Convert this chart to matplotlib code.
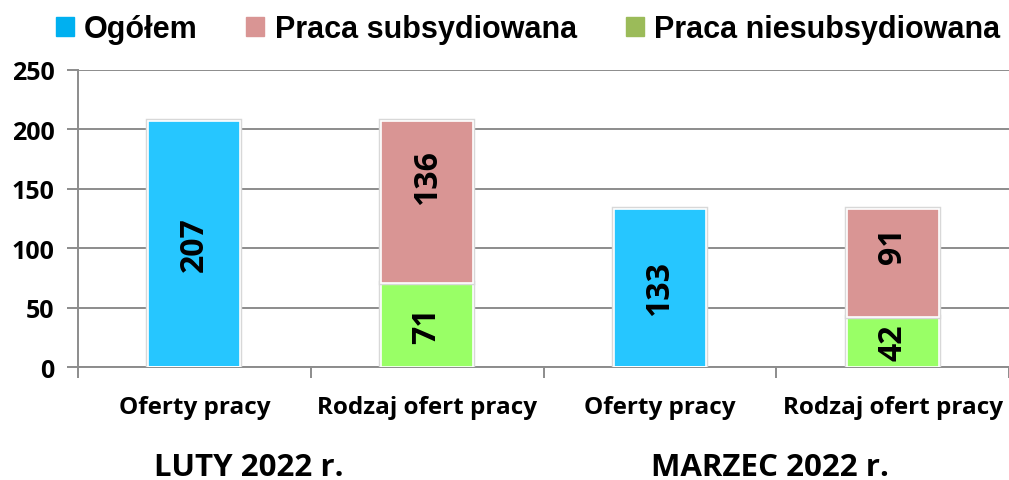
import matplotlib
matplotlib.use('Agg')
import matplotlib.pyplot as plt
import matplotlib.patheffects as pe
import numpy as np

# data
categories = ["Oferty pracy", "Rodzaj ofert pracy", "Oferty pracy", "Rodzaj ofert pracy"]
groups = ["LUTY 2022 r.", "MARZEC 2022 r."]
series_names = ["Ogółem", "Praca subsydiowana", "Praca niesubsydiowana"]
ogolem = [207, 0, 133, 0]
subsydiowana = [0, 136, 0, 91]
niesubsydiowana = [0, 71, 0, 42]
yticks = [0, 50, 100, 150, 200, 250]

# where the labels of the upper (pink) segments sit in the original
sub_label_y = [0, 160, 0, 103]

bar_colors = ["#26C6FF", "#D99594", "#99FF66"]
legend_colors = ["#00B0F0", "#D99594", "#9BBB59"]
grid_col = "#8C8C8C"
lab_font = ["Open Sans", "DejaVu Sans"]
leg_font = ["Liberation Sans", "DejaVu Sans"]

W, H = 1009, 481
fig = plt.figure(figsize=(W / 100, H / 100), dpi=100)
ax = fig.add_axes([78 / W, 1 - 368 / H, 1 - 78 / W, (368 - 71) / H])

x = np.arange(len(categories))
w = 0.395
shadow = [pe.Stroke(linewidth=3.2, foreground="#D8D8D8"), pe.Normal()]
bars = []
bars += ax.bar(x, ogolem, w, color=bar_colors[0], edgecolor="white", linewidth=1.2, zorder=3)
bars += ax.bar(x, niesubsydiowana, w, color=bar_colors[2], edgecolor="white", linewidth=1.2, zorder=3)
bars += ax.bar(x, subsydiowana, w, bottom=niesubsydiowana, color=bar_colors[1], edgecolor="white", linewidth=1.2, zorder=3)
for b in bars:
    if b.get_height() > 0:
        b.set_path_effects(shadow)

def label(xi, yc, val):
    ax.text(xi, yc, str(val), rotation=90, ha="center", va="center",
            fontsize=23, fontweight="bold", family=lab_font, zorder=4)

for i in range(len(categories)):
    if ogolem[i]:
        label(x[i], ogolem[i] / 2, ogolem[i])
    if niesubsydiowana[i]:
        label(x[i], niesubsydiowana[i] / 2, niesubsydiowana[i])
    if subsydiowana[i]:
        label(x[i], sub_label_y[i], subsydiowana[i])

ax.set_xlim(-0.5, len(categories) - 0.5)
ax.set_ylim(0, 250)
ax.set_yticks(yticks)
ax.yaxis.grid(True, color=grid_col, linewidth=1.4, zorder=0)
ax.set_axisbelow(True)
for s in ["top", "right"]:
    ax.spines[s].set_visible(False)
for s in ["left", "bottom"]:
    ax.spines[s].set_color(grid_col)
    ax.spines[s].set_linewidth(1.4)

ax.set_xticks(x)
ax.set_xticklabels(categories, fontsize=17.5, fontweight="bold", family=lab_font)
ax.tick_params(axis="x", length=0, pad=20.5)
ax.set_xticks(np.arange(-0.5, len(categories), 1.0), minor=True)
ax.tick_params(axis="x", which="minor", length=8, color=grid_col, width=1.4)
ax.tick_params(axis="y", length=8, color=grid_col, width=1.4, pad=9)
for lbl in ax.get_yticklabels():
    lbl.set_fontsize(18)
    lbl.set_fontweight("bold")
    lbl.set_family(lab_font)

group_x = [249, 770]
for gx, g in zip(group_x, groups):
    fig.text(gx / W, 1 - 468 / H, g, ha="center", va="center",
             fontsize=22.5, fontweight="bold", family=lab_font)

handles = [plt.Rectangle((0, 0), 1, 1, color=c) for c in legend_colors]
fig.legend(handles, series_names,
           loc="center", bbox_to_anchor=(0.523, 1 - 30 / H), ncol=3, frameon=False,
           prop={"family": leg_font, "weight": "bold", "size": 22},
           handlelength=0.59, handleheight=0.59, handletextpad=0.33, columnspacing=1.6)

fig.savefig("out.png", dpi=100)
